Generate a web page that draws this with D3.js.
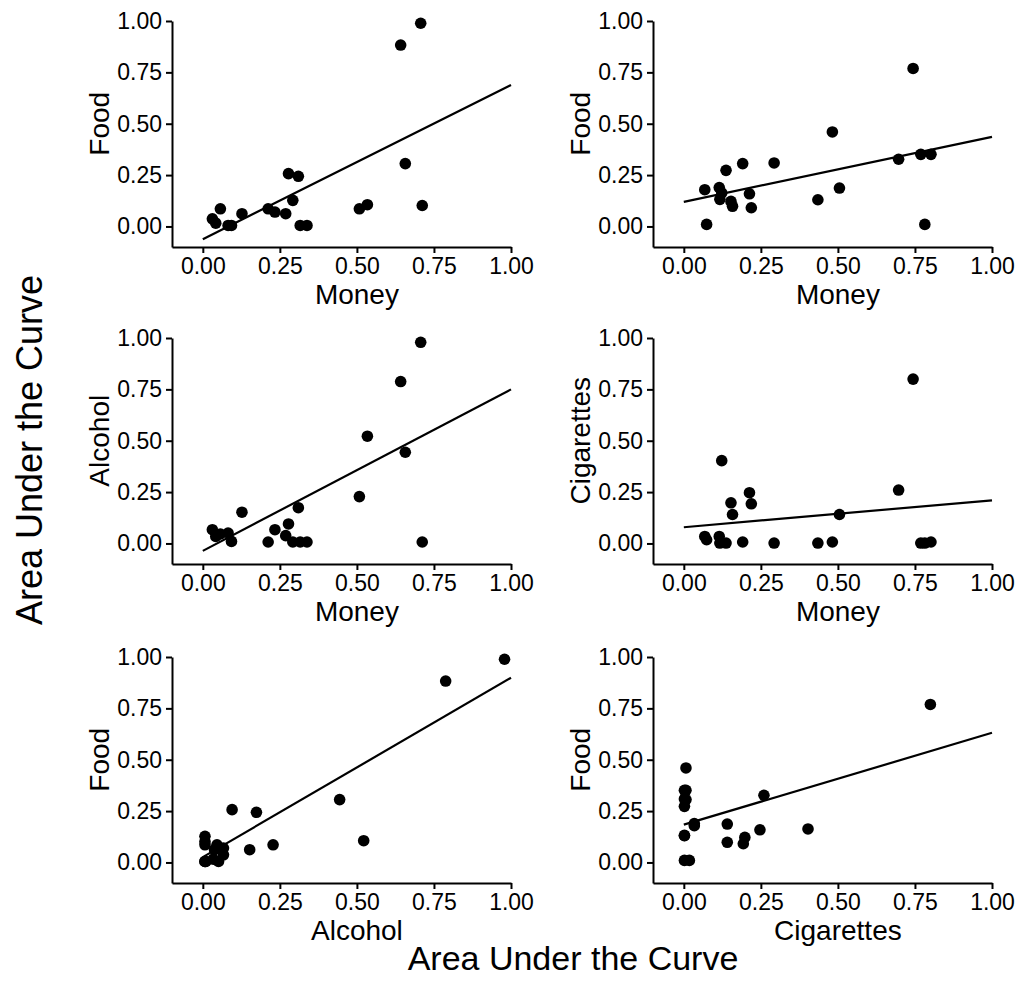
<!DOCTYPE html>
<html>
<head>
<meta charset="utf-8">
<script src="https://cdn.jsdelivr.net/npm/d3@7"></script>
<style>
  html, body { margin: 0; padding: 0; background: #fff; }
  svg { display: block; }
  text { font-family: "Liberation Sans", Arial, sans-serif; fill: #000; }
</style>
</head>
<body>
<svg id="chart" width="1026" height="990"></svg>
<script>
// Group A (alcohol users): money, food and alcohol AUC per subject
const moneyA   = [0.031, 0.042, 0.057, 0.082, 0.093, 0.127, 0.212, 0.234, 0.269, 0.278, 0.292, 0.310, 0.316, 0.338, 0.508, 0.534, 0.642, 0.657, 0.707, 0.712]
const foodA    = [0.037, 0.016, 0.086, 0.005, 0.005, 0.062, 0.086, 0.070, 0.062, 0.257, 0.127, 0.244, 0.005, 0.005, 0.086, 0.106, 0.883, 0.306, 0.989, 0.102]
const alcoholA = [0.067, 0.034, 0.046, 0.051, 0.010, 0.152, 0.007, 0.067, 0.038, 0.095, 0.007, 0.174, 0.007, 0.007, 0.228, 0.522, 0.788, 0.444, 0.979, 0.007]

// Group B (smokers): money, food and cigarettes AUC per subject
const moneyB = [0.068, 0.074, 0.115, 0.117, 0.123, 0.137, 0.153, 0.158, 0.191, 0.213, 0.219, 0.293, 0.435, 0.482, 0.505, 0.697, 0.744, 0.769, 0.782, 0.802]
const foodB  = [0.179, 0.010, 0.189, 0.132, 0.163, 0.273, 0.122, 0.098, 0.306, 0.159, 0.091, 0.309, 0.130, 0.460, 0.187, 0.327, 0.769, 0.351, 0.010, 0.351]
const cigB   = [0.034, 0.018, 0.034, 0.002, 0.403, 0.002, 0.198, 0.141, 0.007, 0.247, 0.193, 0.002, 0.002, 0.007, 0.141, 0.260, 0.800, 0.002, 0.002, 0.007]

// fitted regression lines (panel order: row by row)
const fitIntercepts = [-0.062, 0.120, -0.036, 0.079, 0.026, 0.184]
const fitSlopes     = [0.750, 0.316, 0.786, 0.131, 0.873, 0.447]

const tickValues = [0, 0.25, 0.5, 0.75, 1]
const xTitles = ['Money', 'Money', 'Money', 'Money', 'Alcohol', 'Cigarettes']
const yTitles = ['Food', 'Food', 'Alcohol', 'Cigarettes', 'Food', 'Food']

const panels = [
  { x: moneyA, y: foodA },
  { x: moneyB, y: foodB },
  { x: moneyA, y: alcoholA },
  { x: moneyB, y: cigB },
  { x: alcoholA, y: foodA },
  { x: cigB, y: foodB }
]

const svg = d3.select('#chart')

// layout
const colLeft = [172, 653]
const rowTop = [21, 338, 657]
const plotW = 339
const plotH = 226
const fmt = d3.format('.2f')

panels.forEach((p, i) => {
  const col = i % 2
  const row = Math.floor(i / 2)
  const x0 = colLeft[col]
  const y0 = rowTop[row]

  const x = d3.scaleLinear().domain([-0.1, 1]).range([x0, x0 + plotW])
  const y = d3.scaleLinear().domain([-0.1, 1]).range([y0 + plotH, y0])

  const g = svg.append('g')

  // axes
  const xAxis = g.append('g')
    .attr('transform', `translate(0,${y0 + plotH})`)
    .call(d3.axisBottom(x).tickValues(tickValues).tickFormat(fmt).tickSize(6).tickSizeOuter(0).tickPadding(5))
  const yAxis = g.append('g')
    .attr('transform', `translate(${x0},0)`)
    .call(d3.axisLeft(y).tickValues(tickValues).tickFormat(fmt).tickSize(6).tickSizeOuter(0).tickPadding(4))

  ;[xAxis, yAxis].forEach(a => {
    a.select('.domain').attr('stroke', '#000').attr('stroke-width', 2)
    a.selectAll('.tick line').attr('stroke', '#000').attr('stroke-width', 2)
    a.selectAll('.tick text')
      .attr('font-size', 23)
      .attr('font-family', '"Liberation Sans", Arial, sans-serif')
      .attr('fill', '#000')
  })

  // regression line
  const b0 = fitIntercepts[i]
  const b1 = fitSlopes[i]
  g.append('line')
    .attr('x1', x(0)).attr('y1', y(b0))
    .attr('x2', x(1)).attr('y2', y(b0 + b1))
    .attr('stroke', '#000')
    .attr('stroke-width', 2.2)

  // points
  g.append('g')
    .selectAll('circle')
    .data(p.x.map((v, k) => [v, p.y[k]]))
    .enter().append('circle')
    .attr('cx', d => x(d[0]))
    .attr('cy', d => y(d[1]))
    .attr('r', 5.8)
    .attr('fill', '#000')

  // axis titles
  g.append('text')
    .attr('x', (x(0) + x(1)) / 2)
    .attr('y', y0 + plotH + 57)
    .attr('text-anchor', 'middle')
    .attr('font-size', 28)
    .text(xTitles[i])

  g.append('text')
    .attr('transform', `translate(${x0 - 63},${(y(0) + y(1)) / 2}) rotate(-90)`)
    .attr('text-anchor', 'middle')
    .attr('font-size', 28)
    .text(yTitles[i])
})

// shared titles
svg.append('text')
  .attr('x', 573)
  .attr('y', 970)
  .attr('text-anchor', 'middle')
  .attr('font-size', 34)
  .text('Area Under the Curve')

svg.append('text')
  .attr('transform', 'translate(42,450) rotate(-90)')
  .attr('text-anchor', 'middle')
  .attr('font-size', 36)
  .text('Area Under the Curve')
</script>
</body>
</html>
